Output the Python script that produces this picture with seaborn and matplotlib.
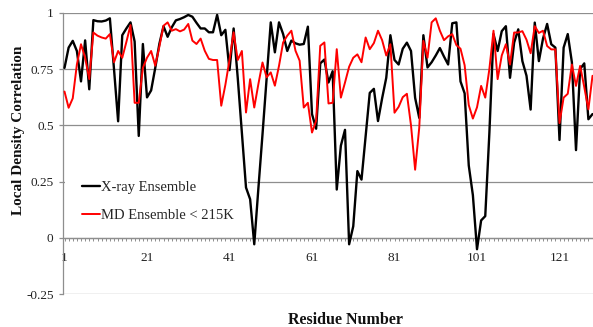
import matplotlib
matplotlib.use("Agg")
import matplotlib.pyplot as plt
from matplotlib.patches import Rectangle
from matplotlib.ticker import FixedLocator, FixedFormatter
import numpy as np
import pandas as pd
import seaborn as sns

residues = list(range(1, 130))

xray = [0.755, 0.845, 0.875, 0.83, 0.695, 0.877, 0.66, 0.967, 0.962, 0.961,
        0.965, 0.975, 0.75, 0.518, 0.9, 0.93, 0.957, 0.872, 0.453, 0.861,
        0.624, 0.655, 0.755, 0.862, 0.94, 0.893, 0.935, 0.966, 0.972, 0.98,
        0.99, 0.982, 0.955, 0.93, 0.93, 0.913, 0.913, 0.99, 0.9, 0.924,
        0.745, 0.93, 0.71, 0.47, 0.224, 0.172, -0.028, 0.22, 0.46, 0.71,
        0.957, 0.824, 0.957, 0.905, 0.83, 0.876, 0.864, 0.858, 0.861, 0.938,
        0.55, 0.485, 0.775, 0.792, 0.69, 0.74, 0.215, 0.41, 0.48, -0.028,
        0.052, 0.297, 0.259, 0.45, 0.644, 0.662, 0.519, 0.62, 0.711, 0.9,
        0.79, 0.77, 0.84, 0.867, 0.83, 0.622, 0.533, 0.9, 0.757, 0.78,
        0.81, 0.843, 0.805, 0.77, 0.953, 0.957, 0.695, 0.642, 0.322, 0.19,
        -0.05, 0.078, 0.097, 0.467, 0.905, 0.83, 0.918, 0.94, 0.711, 0.867,
        0.926, 0.785, 0.72, 0.57, 0.956, 0.785, 0.885, 0.95, 0.86, 0.845,
        0.435, 0.845, 0.905, 0.78, 0.39, 0.75, 0.775, 0.527, 0.55]

md = [0.65, 0.578, 0.62, 0.77, 0.86, 0.8, 0.705, 0.912, 0.898, 0.89,
      0.885, 0.905, 0.78, 0.83, 0.8, 0.87, 0.945, 0.6, 0.6, 0.755,
      0.8, 0.83, 0.765, 0.85, 0.942, 0.957, 0.92, 0.927, 0.917, 0.925,
      0.95, 0.876, 0.861, 0.885, 0.831, 0.795, 0.79, 0.79, 0.587, 0.68,
      0.79, 0.913, 0.79, 0.83, 0.557, 0.705, 0.579, 0.683, 0.779, 0.713,
      0.735, 0.676, 0.764, 0.868, 0.898, 0.92, 0.831, 0.787, 0.579, 0.6,
      0.468, 0.52, 0.853, 0.868, 0.597, 0.6, 0.838, 0.623, 0.69, 0.76,
      0.8, 0.815, 0.78, 0.89, 0.838, 0.865, 0.92, 0.878, 0.81, 0.86,
      0.556, 0.582, 0.625, 0.64, 0.5, 0.303, 0.49, 0.875, 0.8, 0.957,
      0.975, 0.92, 0.878, 0.895, 0.905, 0.856, 0.84, 0.767, 0.59, 0.53,
      0.58, 0.675, 0.623, 0.75, 0.92, 0.705, 0.81, 0.86, 0.77, 0.912,
      0.912, 0.918, 0.88, 0.82, 0.94, 0.91, 0.92, 0.852, 0.837, 0.837,
      0.51, 0.623, 0.64, 0.77, 0.675, 0.764, 0.67, 0.571, 0.72]

series_names = ["X-ray Ensemble", "MD Ensemble < 215K"]
x_tick_values = [1, 21, 41, 61, 81, 101, 121]
x_tick_labels = ["1", "21", "41", "61", "81", "101", "121"]
y_tick_values = [-0.25, 0, 0.25, 0.5, 0.75, 1]
y_tick_labels = ["-0.25", "0", "0.25", "0.5", "0.75", "1"]

sns.set_theme(style="white")
plt.rcParams['font.family'] = ['Liberation Serif', 'DejaVu Serif']

fig = plt.figure(figsize=(5.93, 3.27), dpi=100)
ax = fig.add_axes([63.3 / 593, 0.1, 1 - 63.3 / 593, 0.8612])

df = pd.DataFrame({
    "Residue": residues * 2,
    "LDC": xray + md,
    "Series": [series_names[0]] * len(residues) + [series_names[1]] * len(residues),
})

sns.lineplot(data=df[df.Series == series_names[0]], x="Residue", y="LDC",
             color="black", lw=1.7, ax=ax, label=series_names[0], zorder=3)
sns.lineplot(data=df[df.Series == series_names[1]], x="Residue", y="LDC",
             color="#ff0000", lw=1.4, ax=ax, label=series_names[1], zorder=3.1)

ax.set_xlim(0.709, 129.12)
ax.set_ylim(-0.25, 1)

gridc = "#8e8e8e"
ax.set_axisbelow(True)
ax.yaxis.set_major_locator(FixedLocator(y_tick_values))
ax.yaxis.set_major_formatter(FixedFormatter(y_tick_labels))
ax.grid(axis="y", color=gridc, lw=0.9)
ax.grid(axis="x", visible=False)

ax.xaxis.set_major_locator(FixedLocator(x_tick_values))
ax.xaxis.set_major_formatter(FixedFormatter(x_tick_labels))
ax.xaxis.set_minor_locator(FixedLocator(residues))

for s in ["top", "right"]:
    ax.spines[s].set_visible(False)
ax.spines["bottom"].set_position(("data", 0))
for s in ["left", "bottom"]:
    ax.spines[s].set_color(gridc)
    ax.spines[s].set_linewidth(0.9)

ax.tick_params(axis="y", which="major", direction="out", length=3, width=0.9,
               color=gridc, labelsize=9.5, labelcolor="#222222", pad=4, left=True)
ax.tick_params(axis="x", which="both", direction="out", length=2.2, width=0.7,
               color=gridc, bottom=True)
ax.tick_params(axis="x", which="major", labelsize=9.5, labelcolor="#222222", pad=8)

ax.set_xlabel("Residue Number", fontsize=11.5, fontweight="bold", color="#111111")
ax.set_ylabel("Local Density Correlation", fontsize=11, fontweight="bold", color="#111111")
ax.xaxis.set_label_coords(0.532, -0.063)
ax.yaxis.set_label_coords(-0.0714, 0.583)

# white legend area
ax.add_patch(Rectangle((0.003, 0.221), 0.346, 0.245, transform=ax.transAxes,
                       facecolor="white", edgecolor="none", zorder=1))
ax.legend(loc="upper left", bbox_to_anchor=(0.0347, 0.402), frameon=False,
          fontsize=10.5, handlelength=1.25, handletextpad=0.1, labelspacing=1.0,
          borderpad=0, borderaxespad=0)

fig.savefig("out.png", dpi=100)
